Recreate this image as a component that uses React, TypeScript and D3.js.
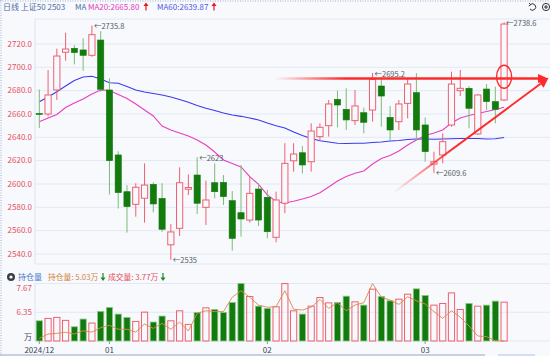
import React from 'react';
import * as d3 from 'd3';

const dates = [
  '2024-12-20','2024-12-23','2024-12-24','2024-12-25','2024-12-26','2024-12-27','2024-12-30','2024-12-31',
  '2025-01-02','2025-01-03','2025-01-06','2025-01-07','2025-01-08','2025-01-09','2025-01-10','2025-01-13',
  '2025-01-14','2025-01-15','2025-01-16','2025-01-17','2025-01-20','2025-01-21','2025-01-22','2025-01-23',
  '2025-01-24','2025-01-27','2025-02-05','2025-02-06','2025-02-07','2025-02-10','2025-02-11','2025-02-12',
  '2025-02-13','2025-02-14','2025-02-17','2025-02-18','2025-02-19','2025-02-20','2025-02-21','2025-02-24',
  '2025-02-25','2025-02-26','2025-02-27','2025-02-28','2025-03-03','2025-03-04','2025-03-05','2025-03-06',
  '2025-03-07','2025-03-10','2025-03-11','2025-03-12','2025-03-13','2025-03-14'
];

const open = [
  2660.5, 2660, 2680.6, 2712.9, 2716.3, 2714.9, 2710.3, 2723.4, 2680.6, 2624.9, 2593.4, 2582.6, 2587.8, 2599.7,
  2587.7, 2547.9, 2562, 2595.5, 2607.7, 2580, 2601.1, 2601.4, 2585.7, 2575.4, 2569.1, 2595.7, 2588.6, 2554.3,
  2583.5, 2619.9, 2626.8, 2619.1, 2640.6, 2650, 2672.6, 2664, 2654.3, 2661.1, 2663.4, 2684, 2657.1, 2653.4,
  2669.1, 2678.3, 2650.6, 2617.1, 2624.9, 2650.6, 2680, 2682, 2642.9, 2681.4, 2670.6, 2672
];
const high = [
  2681, 2697.7, 2716, 2729.7, 2719, 2724.9, 2735.8, 2731, 2690.6, 2628, 2599, 2600.6, 2617.7, 2601.4,
  2600.6, 2565.7, 2614.3, 2608.3, 2623, 2602.9, 2617.7, 2607.7, 2594, 2616.3, 2606.3, 2600.6, 2594.9, 2593.4,
  2635, 2635, 2632.6, 2652, 2652, 2672, 2680, 2682, 2680.6, 2665.4, 2695.2, 2690.6, 2666.9, 2672,
  2690.6, 2695, 2657, 2627.7, 2643.4, 2696.3, 2697.7, 2684, 2677, 2685.7, 2683.4, 2738.6
];
const low = [
  2648, 2658, 2672, 2705.7, 2702.6, 2697.1, 2709, 2679, 2591, 2579, 2558.3, 2572, 2566.9, 2575.7,
  2559, 2535, 2555.4, 2590.6, 2574.3, 2564.9, 2587.7, 2582, 2542.9, 2554.9, 2566.9, 2564, 2553.4, 2550,
  2575, 2610.6, 2609, 2610.6, 2637, 2640.6, 2648.6, 2646.3, 2650.6, 2643.4, 2653.4, 2649.1, 2637.7, 2646.3,
  2656.3, 2637, 2619.1, 2609.6, 2617.7, 2649, 2675.4, 2647.7, 2642, 2663.4, 2652, 2671
];
const close = [
  2659.8, 2676.3, 2709.7, 2715.7, 2712.6, 2710.3, 2728, 2681.2, 2620, 2592.6, 2580.6, 2597.2, 2599.1, 2582.9,
  2561.2, 2558.9, 2601.1, 2597, 2583.5, 2586.3, 2593.4, 2589.2, 2553.4, 2570, 2592, 2569.1, 2559.1, 2586.3,
  2617.7, 2625.7, 2616.3, 2645.4, 2648.6, 2668.6, 2667.7, 2654.9, 2666.9, 2652.9, 2689.7, 2675.4, 2646.3, 2668.6,
  2685.7, 2646.3, 2627.7, 2619.1, 2636.3, 2685.7, 2682, 2664.9, 2676.3, 2670.6, 2664, 2737.1
];

const ma20 = [
  2653.4, 2656.6, 2659.6, 2665.6, 2669.4, 2672.9, 2677.1, 2680.6, 2680.1, 2676.7, 2673.3, 2668.6, 2663.4, 2658.3,
  2649.7, 2646.3, 2643.7, 2641.1, 2637.7, 2633.4, 2627.4, 2620.6, 2617.6, 2614.6, 2606.4, 2599.6, 2590.6, 2585,
  2583.7, 2585.2, 2587.1, 2589.3, 2592.5, 2597.4, 2602.6, 2606.4, 2609.2, 2611.1, 2617.1, 2621.9, 2624.4, 2628.3,
  2633.4, 2637.7, 2641.6, 2643.7, 2646.3, 2652.3, 2656.6, 2658.7, 2660.4, 2662.1, 2663.9, 2665.8
];
const ma60 = [
  2670.5, 2674.6, 2679.1, 2684, 2688.7, 2691.7, 2692.3, 2690, 2686.8, 2686.3, 2683.6, 2680.6, 2678.9, 2677.6,
  2676.3, 2674.6, 2672.4, 2670, 2667.3, 2664.9, 2663, 2660.9, 2659.1, 2658, 2656.6, 2654.9, 2652.3, 2650,
  2648, 2644.6, 2641.6, 2639, 2637.1, 2636, 2634.9, 2634.7, 2634.9, 2634.9, 2635.6, 2636, 2636.9, 2637.3,
  2638.1, 2638.6, 2638.6, 2638.3, 2638.6, 2638.8, 2639, 2639, 2639, 2638.6, 2638.8, 2639.87
];

// 成交量 (万)
const volume = [
  1.96, 2.19, 2.29, 2.0, 1.38, 2.13, 1.74, 2.87, 3.26, 2.61, 2.29, 1.9, 2.8, 1.84,
  2.42, 1.96, 2.93, 1.61, 2.77, 3.22, 3.06, 2.77, 3.74, 5.58, 4.32, 3.38, 3.16, 3.32,
  5.57, 2.93, 2.61, 3.38, 4.22, 3.7, 3.74, 4.35, 3.8, 3.48, 5.03, 4.32, 3.9, 4.06,
  4.54, 5.06, 4.42, 3.48, 3.64, 4.67, 3.06, 3.64, 3.38, 3.48, 3.87, 3.77
];
// 持仓量 (万)
const openInterest = [
  5.15, 5.35, 5.38, 5.43, 5.35, 5.5, 5.44, 5.64, 5.75, 5.57, 5.57, 5.44, 5.81, 5.61,
  5.84, 5.57, 5.9, 5.49, 6.3, 6.42, 6.38, 6.38, 7.04, 7.34, 7.04, 6.68, 6.58, 6.61,
  7.34, 6.49, 6.45, 6.58, 6.94, 6.53, 6.79, 6.42, 6.68, 6.79, 7.67, 7.04, 6.91, 6.71,
  7.06, 6.88, 6.73, 6.38, 6.07, 6.42, 6.12, 5.72, 5.26, 5.23, 5.04, 5.03
];

const priceTicks = [2540, 2560, 2580, 2600, 2620, 2640, 2660, 2680, 2700, 2720];
const oiTicks = [7.67, 6.35];
const monthTickDates = ['2024-12-20', '2025-01-02', '2025-02-05', '2025-03-03'];
const monthTickLabels = ['2024/12', '01', '02', '03'];
const highMarks = [6, 18, 38, 53];
const lowMarks = [15, 45];

const W = 550;
const H = 356;
const BG = '#f7f9fd';
const GRID = '#e2e9f4';
const UP = '#ef6070';
const DOWN = '#137a0d';
const DOWN_WICK = '#7dbb78';
const FONT = '"Noto Sans CJK SC", "Noto Sans", sans-serif';

function fmt(v: number) {
  return String(+v.toFixed(1));
}

export default function App() {
  const x = d3.scalePoint<string>().domain(dates).range([39.3, 504.1]);
  const y = d3.scaleLinear().domain([2540, 2720]).range([254, 44]);
  const yVol = d3.scaleLinear().domain([0, 5.58]).range([341, 283.5]);
  const yOI = d3.scaleLinear().domain([5.03, 7.67]).range([341, 283.5]);
  const bw = 6.2;

  const lineMA = d3.line<number>().x((_, i) => x(dates[i]) as number).y((d) => y(d));
  const lineOI = d3.line<number>().x((_, i) => x(dates[i]) as number).y((d) => yOI(d));

  // red annotation arrows
  const hx0 = 275, hx1 = 540, hy = 78.5;
  const dx0 = 393, dy0 = 193, dx1 = 547, dy1 = 79;
  const ang = Math.atan2(dy1 - dy0, dx1 - dx0);
  const headLen = 10, headW = 5;
  const tipX = dx1 + Math.cos(ang) * 2, tipY = dy1 + Math.sin(ang) * 2;
  const bx = tipX - Math.cos(ang) * headLen, by = tipY - Math.sin(ang) * headLen;
  const px = -Math.sin(ang) * headW, py = Math.cos(ang) * headW;

  const upArrow = (ax: number, ay: number, color: string) => (
    <g>
      <line x1={ax} y1={ay + 4} x2={ax} y2={ay - 1} stroke={color} strokeWidth={1.2} />
      <path d={`M${ax - 2.5},${ay - 0.5} L${ax},${ay - 4} L${ax + 2.5},${ay - 0.5} Z`} fill={color} />
    </g>
  );
  const downArrow = (ax: number, ay: number, color: string) => (
    <g>
      <line x1={ax} y1={ay - 4} x2={ax} y2={ay + 1} stroke={color} strokeWidth={1.2} />
      <path d={`M${ax - 2.5},${ay + 0.5} L${ax},${ay + 4} L${ax + 2.5},${ay + 0.5} Z`} fill={color} />
    </g>
  );

  return (
    <svg width={W} height={H} style={{ position: 'absolute', left: 0, top: 0, display: 'block' }} fontFamily={FONT}>
      <defs>
        <linearGradient id="hgrad" gradientUnits="userSpaceOnUse" x1={hx0} y1={0} x2={hx0 + 70} y2={0}>
          <stop offset="0" stopColor="#ff2a2a" stopOpacity={0} />
          <stop offset="1" stopColor="#ff2a2a" stopOpacity={1} />
        </linearGradient>
        <linearGradient id="dgrad" gradientUnits="userSpaceOnUse" x1={dx0} y1={dy0} x2={dx0 + 60} y2={dy0 - 44}>
          <stop offset="0" stopColor="#ff2a2a" stopOpacity={0} />
          <stop offset="1" stopColor="#ff2a2a" stopOpacity={1} />
        </linearGradient>
      </defs>
      <rect x={0} y={0} width={W} height={H} fill={BG} />
      {/* dotted outer border */}
      <line x1={0} y1={1} x2={W} y2={1} stroke="#9fb0cc" strokeDasharray="1,1.5" />
      <line x1={1} y1={0} x2={1} y2={H} stroke="#9fb0cc" strokeDasharray="1,1.5" />

      {/* legend */}
      <text x={3} y={9.5} fontSize={8} fill="#4d6ea3">日线 上证50 2503</text>
      <text x={75} y={9.5} fontSize={8} fill="#4d6ea3">MA</text>
      <text x={88} y={9.5} fontSize={8} fill="#e43cbc">MA20:2665.80</text>
      {upArrow(146, 6.5, '#e8161e')}
      <text x={157} y={9.5} fontSize={8} fill="#5656e6">MA60:2639.87</text>
      {upArrow(214, 6.5, '#e8161e')}

      {/* top right icons */}
      <path d="M530.5,4.5 A3.2,3.2 0 1 1 530,9" fill="none" stroke="#333" strokeWidth={1} />
      <path d="M529,3 L530.8,4.7 L528.8,6" fill="none" stroke="#333" strokeWidth={1} />
      <circle cx={546} cy={7} r={3.6} fill="none" stroke="#333" strokeWidth={1} />
      <line x1={544} y1={7} x2={548} y2={7} stroke="#333" strokeWidth={1} />
      <line x1={546} y1={5} x2={546} y2={9} stroke="#333" strokeWidth={1} />

      {/* main grid */}
      <line x1={35} y1={19} x2={W} y2={19} stroke={GRID} />
      {priceTicks.map((t) => (
        <line key={t} x1={35} y1={y(t)} x2={W} y2={y(t)} stroke={GRID} />
      ))}
      <line x1={35} y1={264} x2={W} y2={264} stroke={GRID} />
      <line x1={35} y1={19} x2={35} y2={264} stroke="#dbe3f0" />
      {priceTicks.map((t) => (
        <text key={t} x={32} y={y(t)} dy="0.35em" fontSize={8} fill="#e5505c" textAnchor="end">
          {t.toFixed(1)}
        </text>
      ))}

      {/* MA lines */}
      <path d={lineMA(ma60) as string} fill="none" stroke="#3b3bea" strokeWidth={1.1} />
      <path d={lineMA(ma20) as string} fill="none" stroke="#e83fc0" strokeWidth={1.1} />

      {/* candles */}
      {dates.map((dt, i) => {
        const cx = x(dt) as number;
        const o = open[i], c = close[i];
        const isUp = c >= o;
        const top = y(Math.max(o, c));
        const bot = y(Math.min(o, c));
        const h = Math.max(bot - top, 1);
        return (
          <g key={dt}>
            <line x1={cx} x2={cx} y1={y(high[i])} y2={y(low[i])} stroke={isUp ? UP : DOWN_WICK} strokeWidth={1} />
            {isUp ? (
              <rect x={cx - bw / 2} y={top} width={bw} height={h} fill={BG} stroke={UP} strokeWidth={1} />
            ) : (
              <rect x={cx - bw / 2} y={top} width={bw} height={h} fill={DOWN} stroke={DOWN} strokeWidth={0.6} />
            )}
          </g>
        );
      })}

      {/* high/low marks */}
      {highMarks.map((i) => (
        <text key={'h' + i} x={(x(dates[i]) as number) + 2} y={y(high[i]) + 1} dy="0.35em" fontSize={7.5} fill="#555b66">
          {'←' + fmt(high[i])}
        </text>
      ))}
      {lowMarks.map((i) => (
        <text key={'l' + i} x={(x(dates[i]) as number) + 2} y={y(low[i]) + 0.5} dy="0.35em" fontSize={7.5} fill="#555b66">
          {'←' + fmt(low[i])}
        </text>
      ))}

      {/* red annotations */}
      <line x1={hx0} y1={hy} x2={hx1} y2={hy} stroke="url(#hgrad)" strokeWidth={2.4} />
      <path d={`M${hx1 - 2},${hy - 4.5} L${548},${hy} L${hx1 - 2},${hy + 4.5} Z`} fill="#ff2a2a" />
      <line x1={dx0} y1={dy0} x2={bx} y2={by} stroke="url(#dgrad)" strokeWidth={2} />
      <path d={`M${tipX},${tipY} L${bx + px},${by + py} L${bx - px},${by - py} Z`} fill="#ff2a2a" />
      <ellipse cx={504.1} cy={76.7} rx={7.5} ry={11.5} fill="none" stroke="#ff2a2a" strokeWidth={1.4} />

      {/* volume legend */}
      <circle cx={11} cy={277} r={4} fill="#3a3f4a" />
      <circle cx={11} cy={277} r={1.6} fill="#fff" />
      <text x={18} y={280} fontSize={8} fill="#4a78c8">持仓量</text>
      <text x={48} y={280} fontSize={7.8} fill="#d2843a">持仓量: 5.03万</text>
      {downArrow(103, 277, '#1a8a1a')}
      <text x={108} y={280} fontSize={7.8} fill="#e5505c">成交量: 3.77万</text>
      {downArrow(163, 277, '#1a8a1a')}

      {/* volume grid */}
      <line x1={35} y1={283.5} x2={W} y2={283.5} stroke={GRID} />
      <line x1={35} y1={yOI(6.35)} x2={W} y2={yOI(6.35)} stroke={GRID} />
      <line x1={35} y1={341} x2={W} y2={341} stroke={GRID} />
      <line x1={35} y1={283.5} x2={35} y2={341} stroke="#dbe3f0" />
      {oiTicks.map((t, k) => (
        <text key={t} x={32} y={k === 0 ? 288 : yOI(t)} dy="0.35em" fontSize={8} fill="#e5505c" textAnchor="end">
          {t.toFixed(2)}
        </text>
      ))}
      <text x={32} y={337} dy="0.35em" fontSize={8} fill="#3d4656" textAnchor="end">万</text>

      {/* volume bars */}
      {dates.map((dt, i) => {
        const cx = x(dt) as number;
        const isUp = close[i] >= open[i];
        const top = yVol(volume[i]);
        return isUp ? (
          <rect key={dt} x={cx - 3.1} y={top} width={6.2} height={341 - top} fill="none" stroke={UP} strokeWidth={1} />
        ) : (
          <rect key={dt} x={cx - 3.1} y={top} width={6.2} height={341 - top} fill={DOWN} stroke="#8cc888" strokeWidth={0.8} />
        );
      })}
      <path d={lineOI(openInterest) as string} fill="none" stroke="#d98a4c" strokeWidth={0.9} />

      {/* x axis */}
      {monthTickDates.map((dt, k) => {
        const cx = x(dt) as number;
        return (
          <g key={dt}>
            <line x1={cx} x2={cx} y1={341} y2={344} stroke="#8a96a8" />
            <text x={cx} y={350} dy="0.35em" fontSize={8} fill="#3d4656" textAnchor="middle">
              {monthTickLabels[k]}
            </text>
          </g>
        );
      })}
      <line x1={0} y1={355} x2={485} y2={355} stroke="#b8c2d2" strokeWidth={1.5} />
      <line x1={498} y1={355} x2={535} y2={355} stroke="#c4d4f2" strokeWidth={1.5} />
    </svg>
  );
}
